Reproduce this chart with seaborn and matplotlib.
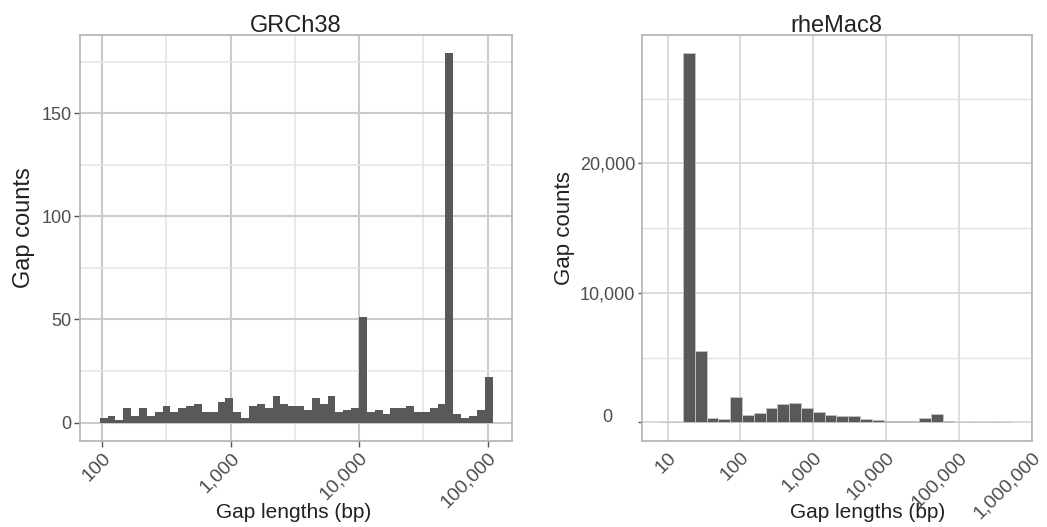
import numpy as np
import pandas as pd
import matplotlib
matplotlib.use("Agg")
import matplotlib.pyplot as plt
import seaborn as sns
from matplotlib.ticker import FixedLocator, FuncFormatter, NullFormatter

# GRCh38: 50 log-spaced bins, log10(bp) range of the bins
grc_bin_range = (1.982, 5.039)
grc_counts = [2, 3, 1, 7, 3, 7, 3, 5, 8, 5,
              7, 8, 9, 5, 5, 10, 12, 5, 2, 8,
              9, 7, 13, 9, 8, 8, 6, 12, 9, 13,
              5, 6, 7, 51, 5, 6, 4, 7, 7, 8,
              5, 5, 7, 9, 179, 4, 2, 3, 6, 22]

# rheMac8: 30 log-spaced bins
rhe_bin_range = (0.886, 5.749)
rhe_counts = [20, 30, 28500, 5540, 335, 260, 1930, 540, 750, 1080,
              1390, 1470, 1130, 825, 570, 490, 490, 285, 155, 75,
              75, 100, 360, 620, 130, 50, 40, 30, 20, 15]

grc_xticks = [100, 1000, 10000, 100000]
grc_yticks = [0, 50, 100, 150]
rhe_xticks = [10, 100, 1000, 10000, 100000, 1000000]
rhe_yticks = [0, 10000, 20000]

sns.set_theme(style="white")
plt.rcParams['font.family'] = ['Liberation Sans', 'DejaVu Sans']

bar_color = "#595959"
text_dark = "#222222"
tick_grey = "#4d4d4d"


def draw_hist(ax, bin_range, counts, edge):
    edges = np.linspace(bin_range[0], bin_range[1], len(counts) + 1)
    df = pd.DataFrame({"bp": 10 ** ((edges[:-1] + edges[1:]) / 2), "n": counts})
    sns.histplot(data=df, x="bp", weights="n", bins=list(edges), log_scale=True,
                 color=bar_color, alpha=1, ax=ax,
                 edgecolor=edge[0], linewidth=edge[1])
    lo, hi = bin_range
    pad = (hi - lo) * 0.05
    ax.set_xlim(10 ** (lo - pad), 10 ** (hi + pad))
    m = max(counts) * 0.05
    ax.set_ylim(-m, max(counts) + m)


def comma(v, pos=None):
    return f"{v:,.0f}"


fig = plt.figure(figsize=(10.47, 5.27), dpi=100)
ax1 = fig.add_axes([80 / 1047, 1 - 441 / 527, 432.3 / 1047, 406 / 527])
ax2 = fig.add_axes([641.7 / 1047, 1 - 440.7 / 527, 390 / 1047, 405.7 / 527])

draw_hist(ax1, grc_bin_range, grc_counts, ("none", 0))
draw_hist(ax2, rhe_bin_range, rhe_counts, ("#c4c4c4", 0.6))
ax2.set_xlim(ax2.get_xlim()[0], 10 ** 6.002)

for ax in (ax1, ax2):
    ax.set_axisbelow(True)
    for s in ax.spines.values():
        s.set_color("#b3b3b3")
        s.set_linewidth(1.2)

# left panel axes
ax1.xaxis.set_major_locator(FixedLocator(grc_xticks))
ax1.xaxis.set_major_formatter(FuncFormatter(comma))
ax1.xaxis.set_minor_locator(FixedLocator([10 ** 2.5, 10 ** 3.5, 10 ** 4.5]))
ax1.xaxis.set_minor_formatter(NullFormatter())
ax1.yaxis.set_major_locator(FixedLocator(grc_yticks))
ax1.yaxis.set_minor_locator(FixedLocator([25, 75, 125, 175]))
ax1.grid(which="major", color="#cbcbcb", linewidth=1.5)
ax1.grid(which="minor", color="#e6e6e6", linewidth=1.2)
ax1.tick_params(which="major", direction="out", length=4, width=1,
                color="#555555", labelcolor=tick_grey,
                bottom=True, left=True, pad=2)
ax1.tick_params(axis="y", labelsize=13)
ax1.tick_params(axis="x", labelsize=14)
ax1.tick_params(which="minor", length=0)
ax1.set_title("GRCh38", fontsize=17, color=text_dark, pad=2.5)

# right panel axes
ax2.xaxis.set_major_locator(FixedLocator(rhe_xticks))
ax2.xaxis.set_major_formatter(FuncFormatter(comma))
ax2.xaxis.set_minor_locator(FixedLocator([]))
ax2.yaxis.set_major_locator(FixedLocator(rhe_yticks))
ax2.yaxis.set_major_formatter(FuncFormatter(comma))
ax2.yaxis.set_minor_locator(FixedLocator([5000, 15000, 25000]))
ax2.grid(which="major", color="#d2d2d2", linewidth=1.1)
ax2.grid(which="minor", axis="y", color="#e2e2e2", linewidth=1.0)
ax2.tick_params(axis="y", which="major", direction="out", length=3, width=1,
                color="#555555", labelsize=13, labelcolor=tick_grey,
                left=True, pad=21.4)
ax2.tick_params(axis="x", which="major", length=0, labelsize=14,
                labelcolor=tick_grey, pad=6)
ax2.tick_params(which="minor", length=0)
ax2.set_title("rheMac8", fontsize=17, color=text_dark, pad=2)
for lbl in ax2.get_yticklabels():
    lbl.set_ha("center")
ax2.get_yticklabels()[0].set_va("baseline")

for ax in (ax1, ax2):
    for lbl in ax.get_xticklabels():
        lbl.set_rotation(45)
        lbl.set_ha("right")
        lbl.set_va("top")
        lbl.set_rotation_mode("anchor")
    ax.set_xlabel("Gap lengths (bp)", fontsize=15, color=text_dark)
    ax.set_ylabel("Gap counts", fontsize=17 if ax is ax1 else 16, color=text_dark)

ax1.yaxis.set_label_coords(-0.105, 0.525)
ax2.yaxis.set_label_coords(-0.172, 0.525)
ax1.xaxis.set_label_coords(0.494, -0.153)
ax2.xaxis.set_label_coords(0.58, -0.153)

fig.savefig("out.png", dpi=100, facecolor="white")
